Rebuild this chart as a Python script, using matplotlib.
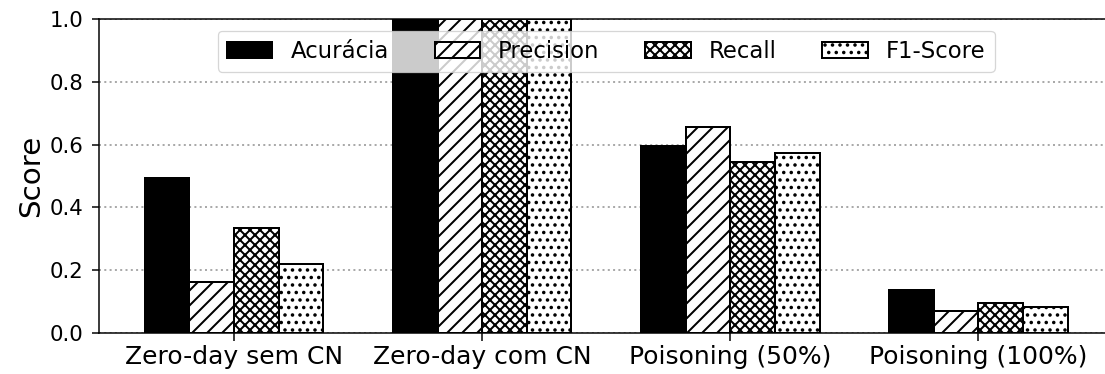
import matplotlib
matplotlib.use("Agg")
import matplotlib.pyplot as plt
import numpy as np

# cenários avaliados
cenarios = ["Zero-day sem CN", "Zero-day com CN", "Poisoning (50%)", "Poisoning (100%)"]

# métricas por cenário
acuracia = [0.494, 1.0, 0.596, 0.136]
precision = [0.163, 1.0, 0.657, 0.070]
recall = [0.333, 1.0, 0.544, 0.094]
f1_score = [0.219, 1.0, 0.574, 0.081]

metricas = ["Acurácia", "Precision", "Recall", "F1-Score"]
valores = [acuracia, precision, recall, f1_score]
hatches = [None, "//", "xxx", ".."]
cores = ["black", "white", "white", "white"]

DPI = 90
plt.rcParams["hatch.linewidth"] = 1.6

fig = plt.figure(figsize=(1105 / DPI, 374 / DPI), dpi=DPI)
ax = fig.add_axes([0.0893, 0.1104, 0.9186, 0.838])

x = np.arange(len(cenarios))
largura = 0.18
for i, (nome, vals) in enumerate(zip(metricas, valores)):
    ax.bar(x + (i - 1.5) * largura, vals, largura, label=nome,
           color=cores[i], edgecolor="black", linewidth=1.6, hatch=hatches[i])

ax.set_xticks(x)
ax.set_xticklabels(cenarios, fontsize=20)
ax.tick_params(axis="y", labelsize=17, pad=6)
ax.tick_params(length=6, width=1.2)
ax.set_ylabel("Score", fontsize=23.5)
ax.set_ylim(0, 1.0)
ax.set_yticks([0.0, 0.2, 0.4, 0.6, 0.8, 1.0])
ax.yaxis.grid(True, linestyle=":", color="#aaaaaa", linewidth=1.6)
ax.set_axisbelow(True)
for s in ax.spines.values():
    s.set_linewidth(1.2)

ax.legend(loc="upper center", ncol=4, fontsize=18.2)

fig.savefig("out.png", dpi=DPI)
